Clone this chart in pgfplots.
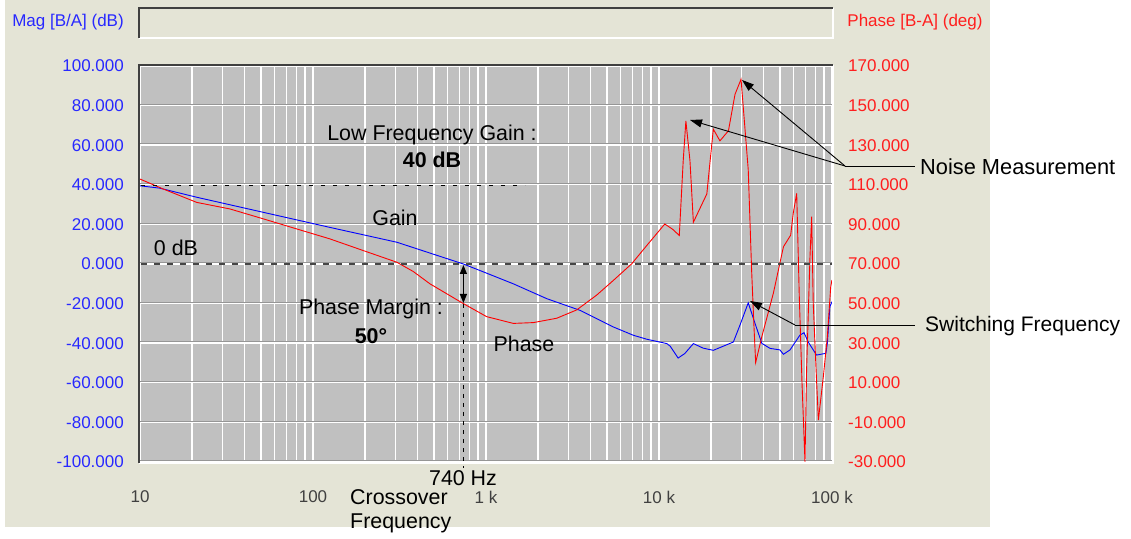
\documentclass[border=0pt]{standalone}
\usepackage{fontspec}
\setmainfont{Liberation Sans}
\usepackage{pgfplots}
\pgfplotsset{compat=1.18}
\usetikzlibrary{arrows.meta}
\definecolor{beige}{RGB}{228,228,214}
\definecolor{plotgray}{RGB}{192,192,192}
\definecolor{tickblue}{RGB}{40,40,255}
\definecolor{tickred}{RGB}{255,30,30}
\definecolor{framedark}{RGB}{64,64,64}
\definecolor{ticklab}{RGB}{64,64,64}
\definecolor{dashdark}{RGB}{70,70,70}
\definecolor{gridedge}{RGB}{150,150,150}
\newcommand{\tf}{\fontsize{17}{20}\selectfont}
\newcommand{\af}{\fontsize{21.4}{25}\selectfont}
\begin{document}
\begin{tikzpicture}[x=1pt,y=1pt]
\path[use as bounding box] (0,0) rectangle (1131,538);
\fill[white] (0,0) rectangle (1131,538);
\fill[beige] (5,11) rectangle (990,538);
% title box
\draw[white, line width=1.5pt] (139,500) -- (833,500) -- (833,530);
\draw[framedark, line width=1.5pt] (139,500) -- (139,530) -- (833,530);
\node[text=tickblue, font=\tf] at (68,516) {Mag [B/A] (dB)};
\node[text=tickred, font=\tf] at (915,516) {Phase [B-A] (deg)};

\begin{axis}[
  at={(140pt,76pt)}, anchor=south west, scale only axis,
  width=692pt, height=396pt,
  xmode=log, log basis x=10,
  xmin=10, xmax=100000, ymin=-100, ymax=100,
  xtick={10,100,1000,10000,100000},
  xticklabels={10,100,1 k,10 k,100 k},
  minor xtick={20,30,40,50,60,70,80,90,200,300,400,500,600,700,800,900,2000,3000,4000,5000,6000,7000,8000,9000,20000,30000,40000,50000,60000,70000,80000,90000},
  ytick={-100,-80,...,100},
  yticklabels={-100.000,-80.000,-60.000,-40.000,-20.000,0.000,20.000,40.000,60.000,80.000,100.000},
  axis line style={draw=none},
  major tick length=0pt, minor tick length=0pt,
  tick style={draw=none},
  xmajorgrids, xminorgrids, ymajorgrids,
  major x grid style={draw=white, line width=1.5pt},
  minor x grid style={draw=white, line width=1.3pt},
  major y grid style={draw=white, line width=1.4pt, preaction={draw=gridedge, line width=2.2pt, transform canvas={yshift=0.6pt}}},
  axis background/.style={fill=plotgray},
  xticklabel style={font=\tf, text=ticklab, anchor=center, yshift=-35pt},
  yticklabel style={font=\tf, text=tickblue, anchor=east, inner sep=0pt, xshift=-16pt},
]
\addplot[blue, line width=0.9pt] table {
10 39.5
13 38.3
21.3 33.7
51.6 26.1
125 18.5
305 11.0
740 0
923 -3.3
1438 -10.0
2244 -17.5
3493 -23.4
5445 -31.8
7112 -36.0
8500 -38.0
11100 -40.2
11600 -41.5
12900 -47.5
14100 -45.2
15800 -40.2
18000 -42.5
20600 -43.6
26900 -39.4
29400 -30.8
32800 -19.6
35900 -30.0
39300 -40.1
43800 -42.6
50000 -43.4
52400 -45.6
57200 -43.4
65300 -35.9
68900 -34.7
73000 -39.5
81400 -46.0
92200 -45.1
94000 -40.0
97200 -21.6
100000 -19.0
};
\end{axis}

\begin{axis}[
  at={(140pt,76pt)}, anchor=south west, scale only axis,
  width=692pt, height=396pt,
  xmode=log, log basis x=10,
  xmin=10, xmax=100000, ymin=-30, ymax=170,
  axis x line=none, axis y line*=right,
  axis line style={draw=none},
  ytick={-30,-10,...,170},
  yticklabels={-30.000,-10.000,10.000,30.000,50.000,70.000,90.000,110.000,130.000,150.000,170.000},
  major tick length=0pt, tick style={draw=none},
  yticklabel style={font=\tf, text=tickred, anchor=west, inner sep=0pt, xshift=16pt},
]
\addplot[red, line width=0.9pt] table {
10 112.9
13.6 107.9
21.3 101.1
33.1 97.8
51.6 92.8
80.6 87.7
125 82.7
195 76.8
305 70.9
380 66.2
474 60.0
740 50.0
1009 43.4
1439 40.0
1877 40.4
2562 42.6
3343 46.8
4363 54.3
5445 61.7
6950 70.1
8490 79.3
10800 90.2
12000 87.5
13100 84.4
13800 122.1
14300 142.3
15100 122.1
15800 91.1
18900 105.4
20600 138.1
22500 132.2
25200 137.3
27500 155.7
29800 163.3
32800 117.5
34300 67.0
35400 38.3
36200 20.2
39300 33.3
45800 55.2
52400 78.7
57700 84.6
59700 95.6
62500 105.7
64700 53.5
67100 9.7
69800 -30
71300 16.5
74600 73.7
76300 93.9
77900 50.2
80900 16.5
83400 -8.8
89100 13.1
94000 33.3
98300 58.5
100000 62.0
};
\end{axis}

% frame of plot area
\draw[white, line width=1.5pt] (139,75) -- (833,75) -- (833,473);
\draw[framedark, line width=2pt] (139,75) -- (139,473) -- (833,473);

% dashed reference lines
\draw[dashdark, line width=1.5pt, dash pattern=on 6pt off 7pt] (141,274) -- (832,274);
\draw[black, line width=0.9pt, dash pattern=on 4pt off 8pt] (141,353) -- (525,353);
\draw[black, line width=0.9pt, dash pattern=on 4pt off 5pt] (463.4,234) -- (463.4,70);
\draw[{Triangle[length=9pt,width=7pt]}-{Triangle[length=9pt,width=7pt]}, line width=1.2pt] (463.4,273) -- (463.4,235);

% annotations
\node[font=\af] at (432,403) {Low Frequency Gain :};
\node[font=\af\bfseries] at (432,378) {40 dB};
\node[font=\af] at (176,290) {0 dB};
\node[font=\af] at (395,320) {Gain};
\node[font=\af] at (371,229) {Phase Margin :};
\node[font=\af\bfseries] at (371,202) {50°};
\node[font=\af] at (524,194) {Phase};
\node[font=\af] at (463,60) {740 Hz};
\node[font=\af, anchor=west, inner sep=0pt] at (350,41) {Crossover};
\node[font=\af, anchor=west, inner sep=0pt] at (350,15) {Frequency};

% noise measurement arrows
\draw[line width=0.9pt] (845,372) -- (915,372);
\draw[line width=0.9pt, -{Triangle[length=12pt,width=8pt]}] (845,372) -- (742,458);
\draw[line width=0.9pt, -{Triangle[length=12pt,width=8pt]}] (845,372) -- (690,418);
\node[font=\fontsize{21.8}{25}\selectfont, anchor=west, inner sep=0pt] at (920,371) {Noise Measurement};
% switching frequency arrow
\draw[line width=0.9pt] (795,213) -- (915,213);
\draw[line width=0.9pt, -{Triangle[length=12pt,width=8pt]}] (795,213) -- (750,237);
\node[font=\fontsize{21}{25}\selectfont, anchor=west, inner sep=0pt] at (925,212) {Switching Frequency};
\end{tikzpicture}
\end{document}
